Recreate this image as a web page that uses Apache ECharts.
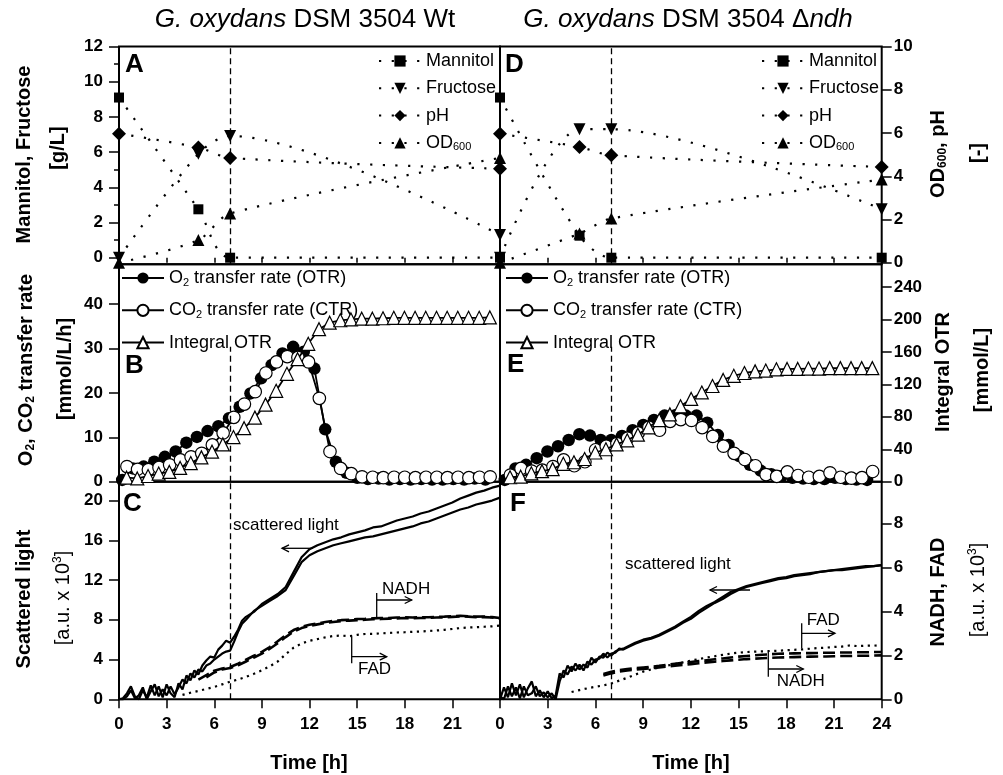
<!DOCTYPE html>
<html><head><meta charset="utf-8">
<script src="https://cdn.jsdelivr.net/npm/echarts@6/dist/echarts.min.js"></script>
<style>html,body{margin:0;padding:0;background:#fff}#c{width:1003px;height:775px}</style>
</head><body><div id="c"></div>
<script>
// ---------- Panels A / D : substrate, product, pH, OD600 ----------
const timeSubstrate = [0, 5, 7, 24];
const mannitolWt = [9.1, 2.75, 0, 0];
const fructoseWt = [0, 5.9, 6.92, 1.29];
const pHWt = [5.97, 5.33, 4.85, 4.35];
const od600Wt = [0, 1.05, 2.28, 4.85];
const mannitolNdh = [9.1, 1.25, 0, 0];
const fructoseNdh = [0, 7.3, 7.3, 2.75];
const pHNdh = [5.97, 5.35, 4.97, 4.43];
const od600Ndh = [0, 1.35, 2.05, 3.85];

// ---------- Panels B / E : OTR, CTR, integral OTR ----------
const timeOtrWt = [0.2,0.87,1.55,2.22,2.89,3.57,4.24,4.91,5.58,6.26,6.93,7.6,8.28,8.95,9.62,10.3,10.97,11.64,12.31,12.99,13.66,14.33,15.01,15.68,16.35,17.03,17.7,18.37,19.04,19.72,20.39,21.06,21.74,22.41,23.08];
const otrWt = [0.4,3.0,3.4,4.5,5.6,6.8,8.8,10.1,11.4,12.5,14.3,16.9,19.9,23.3,26.3,28.9,30.4,29.3,25.5,11.8,4.5,2.0,0.9,0.6,0.7,0.5,0.6,0.5,0.6,0.5,0.5,0.6,0.5,0.7,0.5];
const timeCtrWt = [0.5,1.17,1.85,2.52,3.19,3.87,4.54,5.21,5.88,6.56,7.23,7.9,8.58,9.25,9.92,10.6,11.27,11.94,12.62,13.29,13.96,14.63,15.31,15.98,16.65,17.33,18.0,18.67,19.34,20.02,20.69,21.36,22.04,22.71,23.38];
const ctrWt = [3.4,2.8,2.7,3.2,3.8,4.9,5.6,6.4,8.3,11.0,14.5,17.5,20.3,24.5,27.0,28.2,28.0,27.0,18.8,6.8,3.0,1.8,1.1,1.0,0.9,1.0,1.0,0.9,1.0,1.0,0.9,1.0,0.9,1.0,1.1];
const timeIntWt = [0.48,1.15,1.83,2.5,3.17,3.85,4.52,5.19,5.86,6.54,7.21,7.88,8.56,9.23,9.9,10.58,11.25,11.92,12.6,13.27,13.94,14.61,15.29,15.96,16.63,17.31,17.98,18.65,19.32,20.0,20.67,21.34,22.02,22.69,23.36];
const intOtrWt = [5,4,7,10,12,17,23,30,37,46,55,66,79,95,112,133,151,170,188,196,199,200,201,201,201.5,202,202,202,202,202,202,202,202,202,202.5];

const timeOtrNdh = [0.3,0.97,1.64,2.31,2.98,3.65,4.32,4.99,5.66,6.33,7.0,7.67,8.34,9.01,9.68,10.35,11.02,11.69,12.36,13.03,13.7,14.37,15.04,15.71,16.38,17.05,17.72,18.39,19.06,19.73,20.4,21.07,21.74,22.41,23.08];
const otrNdh = [0.4,3.0,3.8,5.3,6.8,8.0,9.4,10.7,10.4,9.4,9.4,10.3,11.6,12.8,13.9,14.9,15.0,14.9,14.9,13.3,10.5,8.3,5.8,3.8,2.5,1.7,1.3,0.9,0.7,0.6,0.6,0.9,0.6,0.5,0.4];
const timeCtrNdh = [0.65,1.32,1.99,2.66,3.33,4.0,4.67,5.34,6.01,6.68,7.35,8.02,8.69,9.36,10.03,10.7,11.37,12.04,12.71,13.38,14.05,14.72,15.39,16.06,16.73,17.4,18.07,18.74,19.41,20.08,20.75,21.42,22.09,22.76,23.43];
const ctrNdh = [1.5,3.0,2.4,2.6,3.4,4.9,3.6,4.5,7.2,8.0,8.6,9.8,11.0,12.3,11.6,13.6,14.0,13.8,12.2,10.2,8.0,6.4,5.0,3.6,1.6,1.2,2.2,1.4,1.0,1.2,2.0,1.0,0.8,0.9,2.3];
const timeIntNdh = [0.63,1.3,1.97,2.64,3.31,3.98,4.65,5.32,5.99,6.66,7.33,8.0,8.67,9.34,10.01,10.68,11.35,12.02,12.69,13.36,14.03,14.7,15.37,16.04,16.71,17.38,18.05,18.72,19.39,20.06,20.73,21.4,22.07,22.74,23.41];
const intOtrNdh = [5.5,6.2,10.3,13,15.5,22,24,28,36,40,46,51,58,67,76,83,93,102,110,118,125.5,130.5,134,136,137,138.5,139,139,139.5,139.5,140,140,140,140,140];

// ---------- Panels C / F : scattered light, NADH, FAD ----------
const timeScatter = [0,0.25,0.5,0.75,1,1.25,1.5,1.75,2,2.25,2.5,2.75,3,3.25,3.5,3.75,4,4.25,4.5,4.75,5,5.25,5.5,5.75,6,6.25,6.5,6.75,7,7.25,7.5,7.75,8,8.5,9,9.5,10,10.5,11,11.5,12,12.5,13,13.5,14,14.5,15,15.5,16,16.5,17,17.5,18,18.5,19,19.5,20,20.5,21,21.5,22,22.5,23,23.5,24];
const scatterWt1 = [0,0.1,0.6,1.3,0.3,0,0.9,0.2,1.4,0.4,1.3,0.2,1.5,0.6,0.2,1.6,1.0,2.4,1.9,2.9,2.5,3.4,3.9,4.3,4.2,5.0,5.4,5.9,5.7,6.3,7.0,7.9,8.3,8.8,9.6,10.1,10.6,11.3,12.8,14.3,15.1,15.5,15.8,16.1,16.3,16.6,16.8,17.0,17.3,17.4,17.7,18.0,18.2,18.4,18.7,18.9,19.2,19.5,19.8,20.2,20.5,20.8,21.0,21.3,21.5];
const scatterWt2 = [0,0,0.3,0.9,0.1,0.4,1.2,0,0.8,1.5,0.3,1.0,0.4,1.3,0.5,1.2,2.0,1.6,2.6,2.2,3.0,2.8,3.4,3.6,4.0,4.3,4.6,4.8,4.9,5.8,6.8,7.6,8.0,8.9,9.4,9.9,10.4,11.0,12.4,13.8,14.5,14.9,15.2,15.5,15.7,15.9,16.1,16.3,16.4,16.6,16.8,17.0,17.2,17.4,17.7,17.9,18.2,18.5,18.8,19.1,19.3,19.6,19.8,20.0,20.3];
const scatterNdh1 = [0,1.2,0.2,1.6,0.4,1.5,0.2,1.1,1.8,0.3,0.9,0.2,0.8,0.1,0.4,2.6,2.2,3.4,2.8,3.6,3.0,3.5,3.2,4.2,3.7,4.3,4.2,4.7,4.4,4.8,5.0,5.1,5.3,5.7,6.0,6.2,6.5,6.9,7.3,7.8,8.3,8.9,9.4,9.8,10.3,10.8,11.1,11.4,11.6,11.8,12.0,12.2,12.3,12.5,12.6,12.7,12.8,12.9,13.0,13.1,13.2,13.3,13.4,13.4,13.5];
const scatterNdh2 = [0.3,0,1.3,0.3,1.2,0.1,1.3,0.4,0.6,1.3,0.3,0.7,0.2,0.6,0,1.8,2.9,2.5,3.3,2.9,3.5,2.9,3.8,3.5,4.0,4.1,4.6,4.2,4.6,4.7,5.1,5.0,5.2,5.6,5.9,6.1,6.4,6.8,7.2,7.7,8.1,8.7,9.2,9.7,10.1,10.6,11.0,11.3,11.5,11.7,11.9,12.1,12.2,12.4,12.5,12.6,12.8,12.9,13.0,13.0,13.1,13.2,13.3,13.4,13.5];

const timeFluo = [4,4.5,5,5.5,6,6.5,7,7.5,8,8.5,9,9.5,10,10.5,11,11.5,12,12.5,13,13.5,14,14.5,15,15.5,16,16.5,17,17.5,18,18.5,19,19.5,20,20.5,21,21.5,22,22.5,23,23.5,24];
const nadhWt1 = [null,null,0.9,1.1,1.3,1.4,1.47,1.62,1.8,1.98,2.16,2.38,2.64,2.92,3.15,3.3,3.39,3.45,3.52,3.57,3.6,3.62,3.65,3.66,3.68,3.7,3.7,3.72,3.73,3.72,3.73,3.73,3.75,3.76,3.78,3.8,3.78,3.76,3.77,3.74,3.7];
const nadhWt2 = [null,null,null,1.0,1.22,1.36,1.42,1.55,1.72,1.9,2.08,2.3,2.55,2.83,3.08,3.24,3.34,3.41,3.47,3.52,3.56,3.58,3.6,3.62,3.64,3.65,3.67,3.68,3.7,3.69,3.7,3.71,3.72,3.73,3.75,3.77,3.76,3.73,3.74,3.72,3.68];
const fadWt = [0.2,0.3,0.38,0.47,0.56,0.68,0.8,0.9,1.02,1.16,1.32,1.5,1.72,2.05,2.35,2.54,2.66,2.74,2.82,2.88,2.9,2.87,2.93,2.97,2.98,3.0,3.02,3.04,3.05,3.07,3.08,3.11,3.13,3.16,3.2,3.24,3.27,3.28,3.3,3.32,3.36];
const nadhNdh1 = [null,null,null,null,null,1.15,1.25,1.33,1.38,1.42,1.45,1.48,1.52,1.57,1.62,1.66,1.7,1.74,1.78,1.82,1.86,1.9,1.94,1.97,2.0,2.03,2.05,2.07,2.08,2.09,2.1,2.1,2.11,2.12,2.12,2.13,2.13,2.14,2.14,2.15,2.15];
const nadhNdh2 = [null,null,null,null,null,1.08,1.18,1.26,1.31,1.35,1.38,1.41,1.45,1.49,1.53,1.57,1.6,1.64,1.68,1.71,1.74,1.77,1.8,1.83,1.85,1.87,1.89,1.9,1.91,1.92,1.93,1.94,1.95,1.95,1.96,1.97,1.97,1.98,1.98,1.99,2.0];
const fadNdh = [null,0.33,0.42,0.5,0.57,0.63,0.72,0.85,0.98,1.12,1.26,1.36,1.45,1.53,1.6,1.68,1.76,1.83,1.9,1.96,2.02,2.08,2.12,2.15,2.17,2.18,2.2,2.21,2.23,2.25,2.27,2.3,2.33,2.35,2.38,2.4,2.45,2.42,2.44,2.45,2.43];

// ---------- tick labels ----------
const ticksTime = [0,3,6,9,12,15,18,21,24];
const ticksTimeLeft = [0,3,6,9,12,15,18,21];
const ticksGL = [0,2,4,6,8,10,12];
const ticksOD = [0,2,4,6,8,10];
const ticksRate = [0,10,20,30,40];
const ticksInt = [0,40,80,120,160,200,240];
const ticksScatter = [0,4,8,12,16,20];
const ticksFluo = [0,2,4,6,8];
const cultivationStart = 7;

// ================= build =================
const F = 'Liberation Sans, Arial, Helvetica, sans-serif';
const K = '#000';
const pairs = (ts, vs) => ts.map((t, i) => [t, vs[i]]);

const grids = [
  {left:119, top:46.5, width:381, height:217.8},
  {left:500, top:46.5, width:381.7, height:217.8},
  {left:119, top:264.3, width:381, height:217.4},
  {left:500, top:264.3, width:381.7, height:217.4},
  {left:119, top:481.7, width:381, height:217.6},
  {left:500, top:481.7, width:381.7, height:217.6}
].map(g => Object.assign({show:true, borderColor:K, borderWidth:2, backgroundColor:'transparent'}, g));

const xAxes = [];
for (let g = 0; g < 6; g++) {
  const bottom = g >= 4;
  xAxes.push({
    type:'value', gridIndex:g, min:0, max:24, interval:3, position: bottom ? 'bottom' : 'top',
    axisLine:{show:false}, splitLine:{show:false},
    axisTick:{show: bottom || g < 2, inside: !bottom, length: bottom ? 9 : 5, lineStyle:{color:K, width:1.5}},
    axisLabel:{show: bottom, customValues: g === 4 ? ticksTimeLeft : ticksTime, margin: 17,
      color:K, fontFamily:F, fontWeight:'bold', fontSize:17}
  });
}

function yAx(gi, pos, min, max, vals, show, extra) {
  return Object.assign({
    type:'value', gridIndex:gi, position:pos, min:min, max:max, show:show,
    axisLine:{show:false}, splitLine:{show:false},
    axisTick:{show:true, inside:false, length:10, customValues:vals, lineStyle:{color:K, width:1.5}},
    axisLabel:{show:true, customValues:vals, margin: pos === 'left' ? 16 : 12,
      color:K, fontFamily:F, fontWeight:'bold', fontSize:17}
  }, extra || {});
}
const yAxes = [
  yAx(0, 'left', -0.375, 12, ticksGL, true, {minInterval:2, maxInterval:2,
    minorTick:{show:true, splitNumber:2, length:5, lineStyle:{color:K, width:1.5}}}),
  yAx(0, 'right', -0.07, 10, ticksOD, false),
  yAx(1, 'left', -0.375, 12, ticksGL, false),
  yAx(1, 'right', -0.07, 10, ticksOD, true),
  yAx(2, 'left', 0, 49, ticksRate, true),
  yAx(2, 'right', 0, 268, ticksInt, false),
  yAx(3, 'left', 0, 49, ticksRate, false),
  yAx(3, 'right', 0, 268, ticksInt, true),
  yAx(4, 'left', 0, 21.9, ticksScatter, true),
  yAx(4, 'right', 0, 9.9, ticksFluo, false),
  yAx(5, 'left', 0, 21.9, ticksScatter, false),
  yAx(5, 'right', 0, 9.9, ticksFluo, true)
];

const dashV = (data) => ({silent:true, symbol:['none','none'], label:{show:false}, animation:false,
  lineStyle:{type:[6,4], color:K, width:1.3}, emphasis:{disabled:true}, data:data});

function subS(name, xi, yi, vals, symbol, size, rot, ml) {
  const s = {type:'line', name:name, xAxisIndex:xi, yAxisIndex:yi, data:pairs(timeSubstrate, vals),
    smooth:0.3, symbol:symbol, symbolSize:size, symbolRotate:rot || 0, showSymbol:true,
    itemStyle:{color:K}, lineStyle:{color:K, width:2.2, type:[2.2,10.5], cap:'butt'}, z:3, animation:false};
  if (ml) s.markLine = ml;
  return s;
}
function rateS(name, xi, yi, ts, vals, symbol, filled, size, z, ml) {
  const s = {type:'line', name:name, xAxisIndex:xi, yAxisIndex:yi, data:pairs(ts, vals),
    symbol:symbol, symbolSize:size, showSymbol:true,
    itemStyle: filled ? {color:K} : {color:'#fff', borderColor:K, borderWidth:1.2},
    lineStyle:{color:K, width:1.8}, z:z, animation:false};
  if (ml) s.markLine = ml;
  return s;
}
function curveS(name, xi, yi, ts, vals, type, width, ml) {
  const s = {type:'line', name:name, xAxisIndex:xi, yAxisIndex:yi, data:pairs(ts, vals),
    showSymbol:false, symbol:'none', lineStyle:{color:K, width:width, type:type}, z:3, animation:false};
  if (ml) s.markLine = ml;
  return s;
}

const series = [
  // A
  subS('Mannitol', 0, 0, mannitolWt, 'rect', 10, 0, dashV([{xAxis:cultivationStart}])),
  subS('Fructose', 0, 0, fructoseWt, 'triangle', 12, 180),
  subS('pH', 0, 1, pHWt, 'diamond', 14),
  subS('OD600', 0, 1, od600Wt, 'triangle', 12),
  // D
  subS('Mannitol', 1, 2, mannitolNdh, 'rect', 10, 0, dashV([{xAxis:cultivationStart}])),
  subS('Fructose', 1, 2, fructoseNdh, 'triangle', 12, 180),
  subS('pH', 1, 3, pHNdh, 'diamond', 14),
  subS('OD600', 1, 3, od600Ndh, 'triangle', 12),
  // B
  rateS('O2 transfer rate (OTR)', 2, 4, timeOtrWt, otrWt, 'circle', true, 12.5, 3,
    dashV([[{coord:[cultivationStart,0]},{coord:[cultivationStart,30.4]}]])),
  rateS('CO2 transfer rate (CTR)', 2, 4, timeCtrWt, ctrWt, 'circle', false, 12.5, 4),
  rateS('Integral OTR', 2, 5, timeIntWt, intOtrWt, 'triangle', false, 13, 5),
  // E
  rateS('O2 transfer rate (OTR)', 3, 6, timeOtrNdh, otrNdh, 'circle', true, 12.5, 3,
    dashV([[{coord:[cultivationStart,0]},{coord:[cultivationStart,30.4]}]])),
  rateS('CO2 transfer rate (CTR)', 3, 6, timeCtrNdh, ctrNdh, 'circle', false, 12.5, 4),
  rateS('Integral OTR', 3, 7, timeIntNdh, intOtrNdh, 'triangle', false, 13, 5),
  // C
  curveS('scattered light 1', 4, 8, timeScatter, scatterWt1, 'solid', 2.2, dashV([{xAxis:cultivationStart}])),
  curveS('scattered light 2', 4, 8, timeScatter, scatterWt2, 'solid', 2.2),
  curveS('NADH 1', 4, 9, timeFluo, nadhWt1, [12,5], 2.6),
  curveS('NADH 2', 4, 9, timeFluo, nadhWt2, [12,5], 2.6),
  curveS('FAD', 4, 9, timeFluo, fadWt, [2.2,4.5], 2.2),
  // F
  curveS('scattered light 1', 5, 10, timeScatter, scatterNdh1, 'solid', 2.2, dashV([{xAxis:cultivationStart}])),
  curveS('scattered light 2', 5, 10, timeScatter, scatterNdh2, 'solid', 2.2),
  curveS('NADH 1', 5, 11, timeFluo, nadhNdh1, [12,5], 2.6),
  curveS('NADH 2', 5, 11, timeFluo, nadhNdh2, [12,5], 2.6),
  curveS('FAD', 5, 11, timeFluo, fadNdh, [2.2,4.5], 2.2)
];

const legendLabel = {
  'OD600': '{n|OD}{s|600}',
  'O2 transfer rate (OTR)': '{n|O}{s|2}{n| transfer rate (OTR)}',
  'CO2 transfer rate (CTR)': '{n|CO}{s|2}{n| transfer rate (CTR)}'
};
function leg(names, left, top, gap) {
  return {data:names, left:left, top:top, orient:'vertical', padding:0, itemWidth:42, itemHeight:14,
    itemGap:gap, selectedMode:false,
    formatter: n => legendLabel[n] || n,
    textStyle:{color:K, fontFamily:F, fontSize:18,
      rich:{n:{fontSize:18, color:K, fontFamily:F}, s:{fontSize:11, color:K, fontFamily:F, padding:[9,0,0,0]}}}};
}
const subNames = ['Mannitol','Fructose','pH','OD600'];
const rateNames = ['O2 transfer rate (OTR)','CO2 transfer rate (CTR)','Integral OTR'];

// ---------- text & annotations ----------
const RICH = {
  b:{fontSize:20, fontWeight:'bold', fontFamily:F, fill:K},
  bs:{fontSize:12, fontWeight:'bold', fontFamily:F, fill:K, padding:[10,0,0,0]},
  r:{fontSize:20, fontFamily:F, fill:K},
  rsup:{fontSize:12, fontFamily:F, fill:K, padding:[0,0,10,0]},
  ti:{fontSize:26, fontStyle:'italic', fontFamily:F, fill:K},
  tn:{fontSize:26, fontFamily:F, fill:K}
};
function T(x, y, text, opt) {
  opt = opt || {};
  return {type:'text', x:x, y:y, rotation: opt.rot ? Math.PI/2 : 0, silent:true, z:100,
    style:{text:text, fill:K, fontFamily:F, fontSize:opt.size || 20, fontWeight:opt.bold ? 'bold' : 'normal',
      align:opt.align || 'center', verticalAlign:'middle', rich:RICH}};
}
function L(x1, y1, x2, y2) {
  return {type:'line', silent:true, z:100, shape:{x1:x1, y1:y1, x2:x2, y2:y2}, style:{stroke:K, lineWidth:1.3}};
}
function arrow(x1, y, x2) {
  const d = x2 > x1 ? -7 : 7;
  return [L(x1, y, x2, y),
    {type:'polyline', silent:true, z:100, shape:{points:[[x2+d, y-3.5],[x2, y],[x2+d, y+3.5]]}, style:{stroke:K, lineWidth:1.3, fill:null}}];
}

const graphic = [
  T(305, 20, '{ti|G. oxydans}{tn| DSM 3504 Wt}'),
  T(688, 20, '{ti|G. oxydans}{tn| DSM 3504 \u0394}{ti|ndh}'),
  T(125, 64.5, 'A', {size:26, bold:true, align:'left'}),
  T(125, 366, 'B', {size:26, bold:true, align:'left'}),
  T(123, 503.5, 'C', {size:26, bold:true, align:'left'}),
  T(505, 64.5, 'D', {size:26, bold:true, align:'left'}),
  T(507, 364.5, 'E', {size:26, bold:true, align:'left'}),
  T(510, 503.5, 'F', {size:26, bold:true, align:'left'}),
  T(24, 154.5, 'Mannitol, Fructose', {rot:true, bold:true}),
  T(58, 148, '[g/L]', {rot:true, bold:true}),
  T(26, 370, '{b|O}{bs|2}{b|, CO}{bs|2}{b| transfer rate}', {rot:true, bold:true}),
  T(65, 369, '[mmol/L/h]', {rot:true, bold:true}),
  T(24, 599, 'Scattered light', {rot:true, bold:true}),
  T(63, 598, '{r|[a.u. x 10}{rsup|3}{r|]}', {rot:true}),
  T(938, 154, '{b|OD}{bs|600}{b|, pH}', {rot:true, bold:true}),
  T(978, 153, '[-]', {rot:true, bold:true}),
  T(943, 372, 'Integral OTR', {rot:true, bold:true}),
  T(982, 370, '[mmol/L]', {rot:true, bold:true}),
  T(938, 592, 'NADH, FAD', {rot:true, bold:true}),
  T(978, 590, '{r|[a.u. x 10}{rsup|3}{r|]}', {rot:true}),
  T(309, 763, 'Time [h]', {bold:true}),
  T(691, 763, 'Time [h]', {bold:true}),
  // annotations C
  T(233, 525, 'scattered light', {size:17, align:'left'}),
  ...arrow(313, 548.3, 282),
  T(382, 589, 'NADH', {size:17, align:'left'}),
  L(376.7, 593, 376.7, 617), ...arrow(376.7, 600, 411.7),
  T(358, 669, 'FAD', {size:17, align:'left'}),
  L(351.7, 636.7, 351.7, 663.3), ...arrow(351.7, 656.7, 386.7),
  // annotations F
  T(625, 564, 'scattered light', {size:17, align:'left'}),
  ...arrow(750, 590, 710),
  T(806.7, 620.7, 'FAD', {size:17, align:'left'}),
  L(801.7, 623.3, 801.7, 648.3), ...arrow(801.7, 633.3, 835),
  T(776.7, 681.7, 'NADH', {size:17, align:'left'}),
  L(768.3, 651.7, 768.3, 676.7), ...arrow(768.3, 669, 803.3)
];

const option = {
  animation:false, backgroundColor:'#fff',
  grid:grids, xAxis:xAxes, yAxis:yAxes, series:series,
  legend:[leg(subNames, 378, 52, 9.3), leg(subNames, 761, 52, 9.3),
          leg(rateNames, 121, 269, 13.3), leg(rateNames, 505, 269, 13.3)],
  graphic:graphic
};
const chart = echarts.init(document.getElementById('c'), null, {renderer:'canvas'});
chart.setOption(option);
</script></body></html>
